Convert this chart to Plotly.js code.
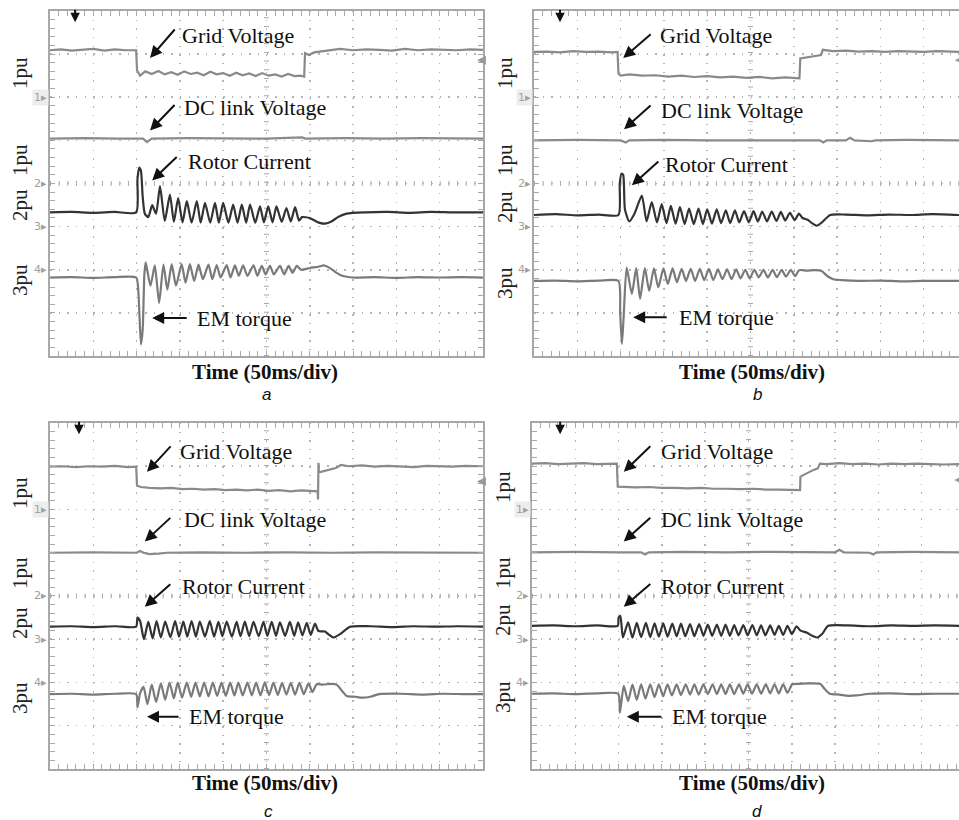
<!DOCTYPE html>
<html><head><meta charset="utf-8">
<script src="https://cdn.plot.ly/plotly-3.0.1.min.js"></script>
<style>html,body{margin:0;padding:0;background:#fff}#chart{width:959px;height:820px}</style>
</head><body><div id="chart"></div>
<script>
// ---------- DATA (time in divisions of 50 ms, value in vertical divisions) ----------
// Panel a
const gridA_t = [0,0.25,0.5,0.75,1.0,1.25,1.5,1.75,1.99, 2.01,2.08,2.2,2.35,2.5,2.65,2.8,2.95,3.1,3.25,3.4,3.55,3.7,3.85,4.0,4.15,4.3,4.45,4.6,4.75,4.9,5.05,5.2,5.35,5.5,5.65,5.78,5.87, 5.89,5.98,6.1,6.25,6.45,6.7,7.0,7.3,7.6,7.9,8.2,8.5,8.8,9.1,9.4,9.7,10];
const gridA_v = [7.09,7.11,7.08,7.1,7.12,7.08,7.11,7.09,7.09, 6.62,6.5,6.6,6.54,6.61,6.53,6.58,6.52,6.6,6.54,6.57,6.51,6.59,6.53,6.56,6.5,6.57,6.51,6.55,6.49,6.56,6.5,6.53,6.48,6.54,6.49,6.5,6.48, 7.02,6.98,7.04,7.06,7.1,7.12,7.09,7.11,7.1,7.08,7.12,7.09,7.11,7.1,7.09,7.11,7.1];
const dcA_t = [0,0.8,1.6,2.15,2.24,2.35,3.2,4.1,5.0,5.82,5.9,6.8,7.7,8.6,9.5,10];
const dcA_v = [5.04,5.05,5.04,5.04,4.96,5.04,5.05,5.04,5.04,5.07,5.04,5.05,5.04,5.05,5.04,5.04];
const rotorA_t = [0,0.5,1.0,1.5,1.99, 2.02,2.06,2.1,2.14,2.19,2.27,2.36,2.45,2.54,2.65,2.77,2.86,2.96,3.06,3.16,3.27,3.39,3.48,3.58,3.7,3.81,3.9,4.0,4.12,4.23,4.33,4.43,4.53,4.62,4.74,4.85,4.94,5.04,5.14,5.23,5.35,5.46,5.56,5.66,5.75, 5.82,6.0,6.15,6.25,6.35,6.5,6.65,6.85,7.3,7.8,8.3,8.8,9.3,10];
const rotorA_v = [3.33,3.34,3.32,3.34,3.33, 4.1,4.37,4.3,3.7,3.3,3.22,3.5,3.3,3.94,3.13,3.74,3.11,3.66,3.1,3.59,3.09,3.59,3.09,3.55,3.09,3.55,3.09,3.55,3.09,3.51,3.09,3.51,3.09,3.51,3.09,3.47,3.1,3.47,3.1,3.47,3.11,3.43,3.12,3.45,3.14, 3.22,3.2,3.12,3.08,3.07,3.12,3.22,3.3,3.33,3.34,3.32,3.34,3.33,3.33];
const torqueA_t = [0,0.5,1.0,1.5,1.99, 2.04,2.1,2.14,2.18,2.21,2.32,2.42,2.52,2.62,2.71,2.81,2.91,3.04,3.13,3.23,3.33,3.43,3.53,3.66,3.75,3.85,3.94,4.08,4.17,4.27,4.36,4.46,4.56,4.70,4.79,4.89,4.98,5.08,5.17,5.31,5.41,5.51,5.60,5.70, 5.8,6.0,6.2,6.32,6.45,6.6,6.75,7.0,7.5,8.0,8.5,9.0,9.5,10];
const torqueA_v = [1.82,1.83,1.81,1.83,1.82, 1.5,0.27,0.6,1.9,2.17,1.63,2.1,1.23,2.12,1.54,2.13,1.63,2.13,1.7,2.13,1.74,2.12,1.78,2.12,1.78,2.11,1.82,2.11,1.82,2.1,1.86,2.1,1.86,2.1,1.86,2.09,1.89,2.09,1.89,2.09,1.89,2.09,1.93,2.09, 2.0,2.04,2.07,2.1,2.05,1.94,1.86,1.82,1.83,1.81,1.83,1.82,1.83,1.82];

// Panel b
const gridB_t = [0,0.3,0.6,0.9,1.2,1.5,1.8,1.93, 1.95,2.0,2.2,2.5,2.8,3.1,3.4,3.7,4.0,4.3,4.6,4.9,5.2,5.5,5.8,6.13, 6.15,6.3,6.5,6.63,6.67,6.9,7.2,7.5,7.8,8.1,8.4,8.7,9.0,9.3,9.6,9.815];
const gridB_v = [7.05,7.06,7.04,7.07,7.05,7.06,7.04,7.05, 6.55,6.5,6.53,6.5,6.51,6.48,6.5,6.47,6.49,6.46,6.48,6.45,6.47,6.44,6.46,6.44, 6.9,6.93,6.96,6.98,7.1,7.07,7.08,7.06,7.07,7.05,7.07,7.06,7.05,7.07,7.06,7.05];
const dcB_t = [0,1.0,2.0,2.12,2.2,3.0,4.0,5.0,6.0,6.6,6.68,6.76,7.2,7.3,7.4,7.8,7.88,8.6,9.815];
const dcB_v = [5.0,5.01,5.0,4.95,5.0,5.01,5.0,5.0,5.01,5.0,4.95,5.0,5.0,5.06,5.0,4.98,5.0,5.01,5.0];
const rotorB_t = [0,0.5,1.0,1.5,1.95, 1.98,2.02,2.06,2.1,2.2,2.32,2.49,2.6,2.72,2.84,2.95,3.06,3.16,3.27,3.37,3.48,3.58,3.69,3.8,3.9,4.0,4.11,4.22,4.32,4.43,4.53,4.64,4.74,4.85,4.96,5.07,5.17,5.27,5.38,5.49,5.6,5.7,5.8,5.91,6.02,6.12, 6.2,6.32,6.42,6.53,6.65,6.84,7.2,7.7,8.2,8.7,9.2,9.815];
const rotorB_v = [3.27,3.29,3.26,3.28,3.27, 4.0,4.23,4.2,3.4,3.12,3.3,3.72,3.12,3.57,3.1,3.52,3.08,3.48,3.07,3.45,3.06,3.42,3.06,3.42,3.06,3.4,3.07,3.4,3.08,3.38,3.08,3.38,3.1,3.36,3.1,3.36,3.12,3.35,3.12,3.35,3.13,3.34,3.14,3.32,3.15,3.3, 3.2,3.16,3.08,3.02,3.1,3.27,3.28,3.26,3.28,3.27,3.29,3.27];
const torqueB_t = [0,0.5,1.0,1.5,1.95, 1.99,2.03,2.07,2.14,2.26,2.36,2.45,2.56,2.66,2.77,2.87,2.99,3.09,3.2,3.3,3.41,3.51,3.62,3.72,3.83,3.93,4.04,4.14,4.25,4.35,4.46,4.56,4.67,4.77,4.88,4.98,5.09,5.19,5.3,5.4,5.51,5.61,5.72,5.82,5.93,6.03,6.12, 6.3,6.5,6.64,6.78,6.91,7.1,7.5,8.0,8.5,9.0,9.815];
const torqueB_v = [1.74,1.75,1.73,1.75,1.74, 1.0,0.28,0.9,2.05,1.44,2.04,1.33,2.04,1.51,2.03,1.59,2.03,1.67,2.03,1.71,2.02,1.74,2.02,1.74,2.02,1.76,2.02,1.76,2.01,1.78,2.01,1.78,2.01,1.8,2.0,1.8,2.0,1.82,2.0,1.82,2.0,1.83,2.0,1.84,2.0,1.85,1.99, 1.98,1.99,1.97,1.85,1.78,1.76,1.74,1.75,1.73,1.74,1.74];

// Panel c
const gridC_t = [0,0.3,0.6,0.9,1.2,1.5,1.8,1.99, 2.01,2.1,2.3,2.55,2.8,3.05,3.3,3.55,3.8,4.05,4.3,4.55,4.8,5.05,5.3,5.55,5.8,6.05,6.18, 6.19,6.2,6.21,6.3,6.45,6.6,6.72,6.9,7.2,7.5,7.8,8.1,8.4,8.7,9.0,9.3,9.6,10];
const gridC_v = [6.99,7.0,6.98,7.0,6.99,7.01,6.98,6.99, 6.55,6.52,6.5,6.49,6.5,6.47,6.48,6.46,6.47,6.45,6.46,6.44,6.46,6.43,6.45,6.42,6.44,6.42,6.42, 6.23,7.08,6.86,6.88,6.92,6.96,7.03,7.0,7.02,6.99,7.01,7.0,6.98,7.01,7.0,6.99,7.01,7.0];
const dcC_t = [0,1.0,2.0,2.08,2.16,2.3,2.5,2.7,3.5,4.5,5.5,6.5,7.5,8.5,10];
const dcC_v = [5.0,5.01,5.0,5.04,5.0,4.97,4.98,5.0,5.01,5.0,5.01,5.0,5.01,5.0,5.0];
const rotorC_t = [0,0.5,1.0,1.5,1.99, 2.02,2.08,2.17,2.27,2.37,2.46,2.56,2.66,2.78,2.89,2.98,3.08,3.17,3.27,3.37,3.46,3.58,3.69,3.79,3.89,3.98,4.08,4.2,4.31,4.4,4.5,4.6,4.7,4.82,4.93,5.02,5.12,5.22,5.31,5.43,5.54,5.64,5.73,5.83,5.93,6.02,6.12, 6.2,6.35,6.45,6.54,6.7,6.93,7.4,7.9,8.4,8.9,9.4,10];
const rotorC_v = [3.29,3.3,3.28,3.3,3.29, 3.5,3.42,3.0,3.4,3.02,3.42,3.04,3.41,3.05,3.42,3.06,3.41,3.06,3.42,3.06,3.41,3.06,3.42,3.06,3.4,3.07,3.41,3.06,3.4,3.07,3.41,3.07,3.4,3.07,3.4,3.08,3.4,3.08,3.39,3.08,3.4,3.08,3.39,3.09,3.38,3.1,3.36, 3.19,3.18,3.1,3.04,3.12,3.29,3.3,3.28,3.3,3.29,3.3,3.29];
const torqueC_t = [0,0.5,1.0,1.5,1.99, 2.02,2.08,2.16,2.25,2.35,2.45,2.56,2.66,2.76,2.86,2.95,3.05,3.16,3.26,3.36,3.46,3.56,3.66,3.76,3.86,3.96,4.06,4.16,4.26,4.35,4.45,4.56,4.66,4.76,4.86,4.96,5.06,5.16,5.26,5.36,5.46,5.56,5.66,5.76,5.86,5.97,6.06,6.16, 6.3,6.5,6.62,6.75,6.85,7.05,7.2,7.4,7.6,8.1,8.6,9.1,9.6,10];
const torqueC_v = [1.73,1.74,1.72,1.74,1.73, 1.43,1.75,1.9,1.5,1.95,1.55,1.98,1.6,2.0,1.63,2.0,1.65,2.0,1.67,2.0,1.68,2.0,1.68,2.0,1.69,2.0,1.69,2.0,1.7,2.0,1.7,2.0,1.7,2.0,1.7,2.0,1.71,2.0,1.71,1.99,1.72,1.99,1.72,1.99,1.73,1.98,1.78,1.96, 1.95,1.97,1.95,1.8,1.69,1.67,1.65,1.67,1.73,1.74,1.72,1.74,1.73,1.73];

// Panel d
const gridD_t = [0,0.3,0.6,0.9,1.2,1.5,1.8,1.96, 1.98,2.1,2.4,2.7,3.0,3.3,3.6,3.9,4.2,4.5,4.8,5.1,5.4,5.7,6.0,6.19, 6.2,6.35,6.49,6.6,6.65,6.8,7.1,7.4,7.7,8.0,8.3,8.6,8.9,9.2,9.5,9.861];
const gridD_v = [7.06,7.07,7.05,7.06,7.07,7.05,7.06,7.06, 6.53,6.52,6.51,6.52,6.5,6.5,6.49,6.5,6.48,6.48,6.47,6.48,6.46,6.46,6.45,6.45, 6.76,6.84,6.91,6.95,7.06,7.05,7.07,7.05,7.06,7.04,7.06,7.05,7.06,7.05,7.04,7.05];
const dcD_t = [0,1.0,2.0,2.52,2.61,2.7,3.5,4.5,5.5,6.5,7.0,7.1,7.2,7.8,7.88,7.96,8.8,9.861];
const dcD_v = [5.01,5.02,5.01,5.01,4.96,5.01,5.02,5.01,5.02,5.01,5.01,5.07,5.01,5.0,4.96,5.01,5.02,5.01];
const rotorD_t = [0,0.5,1.0,1.5,1.98, 2.0,2.04,2.1, 2.22,2.32,2.42,2.52,2.63,2.73,2.83,2.93,3.03,3.13,3.24,3.34,3.44,3.54,3.65,3.75,3.86,3.96,4.06,4.16,4.27,4.37,4.47,4.57,4.67,4.77,4.88,4.98,5.09,5.19,5.29,5.39,5.5,5.6,5.7,5.8,5.9,6.0,6.11, 6.2,6.35,6.47,6.58,6.7,6.84,7.3,7.8,8.3,8.8,9.3,9.861];
const rotorD_v = [3.31,3.32,3.3,3.32,3.31, 3.5,3.54,3.04, 3.39,3.04,3.38,3.05,3.38,3.05,3.37,3.06,3.37,3.06,3.36,3.07,3.36,3.07,3.35,3.07,3.35,3.08,3.34,3.08,3.34,3.08,3.34,3.08,3.33,3.09,3.33,3.09,3.33,3.09,3.32,3.09,3.32,3.1,3.31,3.1,3.31,3.12,3.3, 3.2,3.15,3.08,3.04,3.12,3.31,3.32,3.3,3.32,3.31,3.32,3.31];
const torqueD_t = [0,0.5,1.0,1.5,1.99, 2.03,2.12,2.22, 2.32,2.42,2.52,2.62,2.73,2.83,2.93,3.03,3.13,3.23,3.34,3.44,3.55,3.65,3.75,3.85,3.96,4.06,4.17,4.27,4.37,4.47,4.57,4.67,4.78,4.88,4.98,5.08,5.19,5.29,5.4,5.5,5.6,5.7,5.8,5.9,6.01, 6.15,6.4,6.65,6.77,6.88,7.1,7.3,7.5,7.8,8.3,8.8,9.3,9.861];
const torqueD_v = [1.74,1.75,1.73,1.75,1.74, 1.3,1.92,1.57, 1.95,1.6,1.96,1.63,1.96,1.66,1.96,1.68,1.96,1.7,1.96,1.71,1.96,1.72,1.96,1.72,1.96,1.73,1.96,1.73,1.96,1.73,1.96,1.73,1.96,1.74,1.96,1.74,1.96,1.74,1.96,1.75,1.96,1.75,1.96,1.76,1.96, 1.97,1.98,1.97,1.84,1.74,1.72,1.69,1.7,1.74,1.75,1.73,1.74,1.74];

// Labels
const signalNames = ['Grid Voltage','DC link Voltage','Rotor Current','EM torque'];
const scaleLabels = ['1pu','1pu','2pu','3pu'];
const channelLabels = ['1','2','3','4'];
const channelLevels = [6,4,3,2];
const xTitle = 'Time (50ms/div)';
const panelLetters = ['a','b','c','d'];

// ---------- LAYOUT CONFIG ----------
const serif = "'Liberation Serif','Times New Roman',serif";
const traceColors = ['#8a8a8a','#8a8a8a','#333333','#7a7a7a'];
const traceShapes = ['linear','linear','spline','spline'];
const P = [
 {sx:'', xd:[0.05214,0.50365], yd:[0.56585,0.98659], xr:[0,10], my:'ticks',
  series:[[gridA_t,gridA_v],[dcA_t,dcA_v],[rotorA_t,rotorA_v],[torqueA_t,torqueA_v]],
  txt:[[3.0,7.44],[3.05,5.77],[3.14,4.51],[3.35,0.88]],
  head:[[2.31,6.91],[2.31,5.23],[2.36,4.07],[2.36,0.88]],
  tail:[[26,-30],[26,-27],[26,-25],[36,0]],
  pux:0.02085, puy:[0.911,0.8049,0.75,0.6585], trig:0.58, rm:[9.86,6.86],
  cap:[0.2763,0.5463], let:[0.2784,0.5183]},
 {sx:'2', xd:[0.55683,1], yd:[0.56585,0.98659], xr:[0,9.815], my:false,
  series:[[gridB_t,gridB_v],[dcB_t,dcB_v],[rotorB_t,rotorB_v],[torqueB_t,torqueB_v]],
  txt:[[2.86,7.44],[2.89,5.7],[2.98,4.44],[3.3,0.9]],
  head:[[2.06,6.91],[2.08,5.26],[2.26,3.96],[2.29,0.9]],
  tail:[[29,-25],[28,-25],[28,-25],[35,0]],
  pux:0.5266, puy:[0.911,0.8049,0.7476,0.6549], trig:0.6, rm:[9.72,6.86],
  cap:[0.7842,0.5463], let:[0.7904,0.5183]},
 {sx:'3', xd:[0.05214,0.50365], yd:[0.06220,0.48415], xr:[0,10], my:'ticks',
  series:[[gridC_t,gridC_v],[dcC_t,dcC_v],[rotorC_t,rotorC_v],[torqueC_t,torqueC_v]],
  txt:[[2.96,7.34],[3.05,5.76],[3.0,4.22],[3.16,1.21]],
  head:[[2.24,6.87],[2.19,5.26],[2.19,3.75],[2.24,1.21]],
  tail:[[25,-27],[27,-25],[27,-24],[33,0]],
  pux:0.02085, puy:[0.3988,0.3012,0.2402,0.1488], trig:0.67, rm:[9.86,6.65],
  cap:[0.2763,0.0451], let:[0.2795,0.0098]},
 {sx:'4', xd:[0.55474,1], yd:[0.06220,0.48415], xr:[0,9.861], my:false,
  series:[[gridD_t,gridD_v],[dcD_t,dcD_v],[rotorD_t,rotorD_v],[torqueD_t,torqueD_v]],
  txt:[[2.93,7.34],[2.93,5.76],[2.93,4.22],[3.19,1.21]],
  head:[[2.12,6.87],[2.12,5.26],[2.12,3.75],[2.19,1.21]],
  tail:[[28,-27],[28,-25],[28,-24],[36,0]],
  pux:0.5245, puy:[0.4061,0.3012,0.2439,0.15], trig:0.65, rm:[9.75,6.68],
  cap:[0.7842,0.0451], let:[0.7894,0.0098]}
];

function axisBase(domain, range, mirror) {
  return {domain:domain, range:range, showline:true, linecolor:'#a8a8a8', linewidth:2, mirror:mirror,
    ticks:'inside', ticklen:5, tickwidth:1, tickcolor:'#a8a8a8', tick0:0, dtick:1,
    showticklabels:false, showgrid:true, gridcolor:'#b4b4b4', gridwidth:1.5, griddash:'1.5px,7.16px',
    zeroline:false, fixedrange:true,
    minor:{tick0:0, dtick:0.2, ticks:'inside', ticklen:5, tickwidth:1, tickcolor:'#a8a8a8', showgrid:false}};
}

const traces = [], annotations = [], shapes = [];
const layout = {width:959, height:820, margin:{l:0,r:0,t:0,b:0}, showlegend:false,
  paper_bgcolor:'#fff', plot_bgcolor:'#fff'};

P.forEach(function(p, i){
  const xa = 'x'+p.sx, ya = 'y'+p.sx;
  layout['xaxis'+p.sx] = Object.assign(axisBase(p.xd, p.xr, 'ticks'), {anchor:ya});
  layout['yaxis'+p.sx] = Object.assign(axisBase(p.yd, [0,8], p.my), {anchor:xa});
  p.series.forEach(function(s, k){
    traces.push({x:s[0], y:s[1], xaxis:xa, yaxis:ya, mode:'lines', hoverinfo:'skip',
      line:{color:traceColors[k], width:2.2, shape:traceShapes[k], smoothing:0.6}});
  });
  // crosshair ticks
  shapes.push({type:'line', xref:xa, yref:ya, x0:0, x1:p.xr[1], y0:4, y1:4, layer:'below',
    line:{color:'#aaaaaa', width:5, dash:'1px,7.66px'}});
  shapes.push({type:'line', xref:xa, yref:ya, x0:5, x1:5, y0:0, y1:8, layer:'below',
    line:{color:'#aaaaaa', width:5, dash:'1px,7.66px'}});
  // signal labels + arrows
  signalNames.forEach(function(n, k){
    annotations.push({xref:xa, yref:ya, x:p.txt[k][0], y:p.txt[k][1], text:n, showarrow:false,
      xanchor:'left', yanchor:'middle', font:{family:serif, size:22, color:'#111'}});
    annotations.push({xref:xa, yref:ya, x:p.head[k][0], y:p.head[k][1], text:'', showarrow:true,
      ax:p.tail[k][0], ay:p.tail[k][1], arrowhead:2, arrowsize:1.2, arrowwidth:2, arrowcolor:'#111'});
  });
  // scale labels (left of each panel)
  scaleLabels.forEach(function(t, k){
    annotations.push({xref:'paper', yref:'paper', x:p.pux, y:p.puy[k], text:t, showarrow:false, textangle:-90,
      xanchor:'center', yanchor:'middle', font:{family:serif, size:21, color:'#222'}});
  });
  // channel markers
  channelLabels.forEach(function(t, k){
    annotations.push({xref:xa, yref:ya, x:0, y:channelLevels[k], text:t+'\u25B8', showarrow:false,
      xanchor:'right', yanchor:'middle', xshift:-1, bgcolor: k===0 ? '#ededed' : 'rgba(0,0,0,0)',
      font:{family:'DejaVu Sans, sans-serif', size:11, color:'#a0a0a0'}});
  });
  // trigger marker
  annotations.push({xref:xa, yref:ya, x:p.trig, y:7.74, text:'', showarrow:true, ax:0, ay:-14,
    arrowhead:2, arrowsize:0.95, arrowwidth:2, arrowcolor:'#111'});
  // right level marker
  annotations.push({xref:xa, yref:ya, x:p.rm[0], y:p.rm[1], text:'', showarrow:true, ax:9, ay:0,
    arrowhead:2, arrowsize:0.9, arrowwidth:2, arrowcolor:'#9a9a9a'});
  // captions
  annotations.push({xref:'paper', yref:'paper', x:p.cap[0], y:p.cap[1], text:'<b>'+xTitle+'</b>', showarrow:false,
    xanchor:'center', yanchor:'middle', font:{family:serif, size:21, color:'#111'}});
  annotations.push({xref:'paper', yref:'paper', x:p.let[0], y:p.let[1], text:'<i>'+panelLetters[i]+'</i>', showarrow:false,
    xanchor:'center', yanchor:'middle', font:{family:"'Liberation Sans',Arial,sans-serif", size:17, color:'#111'}});
});
layout.annotations = annotations;
layout.shapes = shapes;

Plotly.newPlot('chart', traces, layout, {staticPlot:true, displayModeBar:false});
</script>
</body></html>
